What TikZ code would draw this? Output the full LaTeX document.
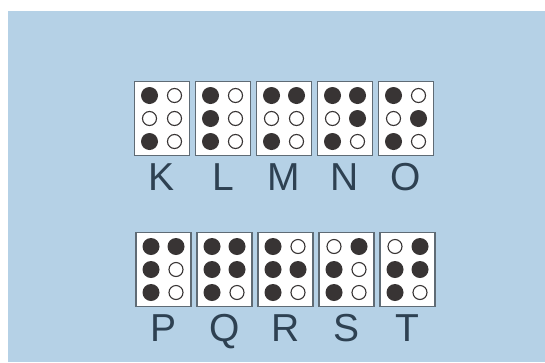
\documentclass[tikz,border=0pt]{standalone}
\usepackage{fontspec}
\setmainfont{Liberation Sans}
\definecolor{bg}{HTML}{B5D1E6}
\definecolor{framec}{HTML}{5F6B75}
\definecolor{dotc}{HTML}{383434}
\definecolor{txt}{HTML}{2E4152}
\begin{document}
\begin{tikzpicture}[x=1pt,y=-1pt,
 cellbox/.style={draw=framec,line width=1.6pt,fill=white,minimum width=55pt,minimum height=74pt,inner sep=0pt},
 dot1/.style={circle,fill=dotc,minimum size=17pt,inner sep=0pt},
 dot0/.style={circle,draw=dotc,line width=1.1pt,fill=white,minimum size=14pt,inner sep=0pt},
 letter/.style={font=\fontsize{39}{39}\selectfont,text=txt,anchor=base,inner sep=0pt}]
\useasboundingbox (0,0) rectangle (545,362);
\fill[white] (0,0) rectangle (545,362);
\fill[bg] (8,11) rectangle (545,362);
\foreach \ch/\i/\r/\a/\b/\c/\d/\e/\f in {K/0/0/1/0/1/0/0/0, L/1/0/1/1/1/0/0/0, M/2/0/1/0/1/1/0/0, N/3/0/1/0/1/1/1/0, O/4/0/1/0/1/0/1/0, P/0/1/1/1/1/1/0/0, Q/1/1/1/1/1/1/1/0, R/2/1/1/1/1/0/1/0, S/3/1/0/1/1/1/0/0, T/4/1/0/1/1/1/1/0}{
 \pgfmathsetmacro\cx{162+61*\i+\r*1.5}
 \pgfmathsetmacro\cy{118.5+151*\r}
 \node[cellbox] (box\ch) at (\cx,\cy) {};
 \node[dot\a] (\ch1) at (\cx-12.5,\cy-23) {};
 \node[dot\b] (\ch2) at (\cx-12.5,\cy) {};
 \node[dot\c] (\ch3) at (\cx-12.5,\cy+23) {};
 \node[dot\d] (\ch4) at (\cx+12.5,\cy-23) {};
 \node[dot\e] (\ch5) at (\cx+12.5,\cy) {};
 \node[dot\f] (\ch6) at (\cx+12.5,\cy+23) {};
 \node[letter] (lab\ch) at (\cx,\cy+72) {\ch};
}
\end{tikzpicture}
\end{document}
